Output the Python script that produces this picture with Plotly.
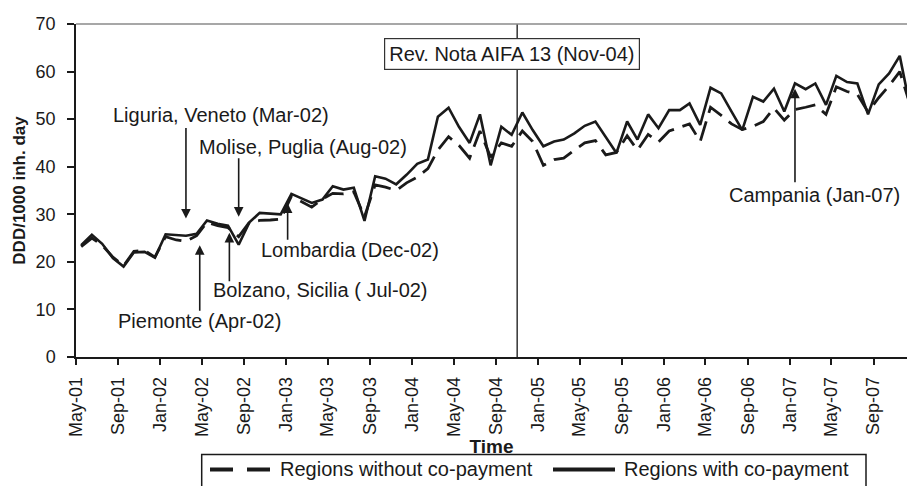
import pandas as pd
import plotly.graph_objects as go

# ---------------- data ----------------
month_start = pd.date_range("2001-05-01", "2007-12-01", freq="MS")
months = month_start + pd.Timedelta(days=15)          # monthly values plotted mid-month

with_copay = [
    23.5, 25.7, 23.8, 20.8, 19.0, 22.0, 22.1, 20.9, 25.8, 25.6,
    25.5, 25.9, 28.7, 28.0, 27.6, 23.6, 28.3, 30.3, 30.1, 30.0,
    34.3, 33.3, 32.4, 33.1, 35.9, 35.2, 35.6, 28.6, 38.0, 37.5,
    36.3, 38.3, 40.6, 41.5, 50.5, 52.4, 48.4, 45.0, 51.0, 40.3,
    48.4, 46.7, 51.4, 47.7, 44.3, 45.3, 45.7, 47.0, 48.6, 49.5,
    46.3, 42.9, 49.5, 45.7, 51.0, 48.1, 51.9, 51.9, 53.3, 48.8,
    56.6, 55.4, 51.6, 47.7, 54.7, 53.7, 56.4, 51.6, 57.5, 56.3,
    57.5, 53.0, 59.1, 57.8, 57.5, 51.0, 57.3, 59.6, 63.3, 52.5,
]
without_copay = [
    23.2, 25.0, 23.5, 21.0, 19.2, 22.2, 22.4, 21.0, 25.3, 24.6,
    24.3, 25.5, 28.3, 27.6, 27.2, 25.3, 28.3, 28.7, 28.8, 29.0,
    33.8, 32.5, 31.5, 33.2, 34.4, 34.3, 34.7, 29.5, 36.2, 35.7,
    35.0, 36.6, 37.8, 39.6, 43.5, 46.3, 44.5, 41.8, 47.5, 42.0,
    45.0, 44.3, 47.5, 45.3, 40.3, 41.5, 41.8, 43.5, 45.0, 45.5,
    42.5, 43.0, 46.5, 43.5, 46.8, 45.2, 47.5, 48.3, 49.0, 45.3,
    52.5, 50.8, 49.0, 47.8, 48.5, 49.5, 52.3, 49.8, 52.0, 52.5,
    53.0, 51.0, 56.8, 55.8, 55.2, 51.5, 54.5, 57.0, 60.0, 53.0,
]

tick_dates = pd.date_range("2001-05-01", "2007-09-01", freq="4MS")
tick_labels = [d.strftime("%b-%y") for d in tick_dates]
y_ticks = [0, 10, 20, 30, 40, 50, 60, 70]

reform_date = "2004-11-01"
reform_label = "Rev. Nota AIFA 13 (Nov-04)"

# (label, arrow tip date, arrow tip value, arrow tail offset px, text centre px x, px y)
events = [
    ("Liguria, Veneto (Mar-02)", "2002-03-16", 29.1, -92, 220.5, 115),
    ("Molise, Puglia (Aug-02)", "2002-08-16", 29.5, -60, 303, 147),
    ("Lombardia (Dec-02)", "2003-01-05", 32.3, 38, 349.5, 250),
    ("Bolzano, Sicilia ( Jul-02)", "2002-07-20", 26.1, 50, 320, 290),
    ("Piemonte (Apr-02)", "2002-04-25", 23.5, 67, 199, 321.7),
    ("Campania (Jan-07)", "2007-01-16", 56.4, 95, 814, 195),
]

# ---------------- layout geometry ----------------
W, H = 907, 486
ML, MR, MT, MB = 76, 0, 23.5, 128.7


def pxx(x):
    return (x - ML) / (W - ML - MR)


def pxy(y):
    return (H - MB - y) / (H - MT - MB)


FONT = "Liberation Sans, Arial, Helvetica, sans-serif"
INK = "#1a1a1a"

fig = go.Figure()
fig.add_trace(go.Scatter(
    x=months, y=without_copay, mode="lines", name="Regions without co-payment",
    line=dict(color=INK, width=2.8, dash="20px,9px"), showlegend=False,
))
fig.add_trace(go.Scatter(
    x=months, y=with_copay, mode="lines", name="Regions with co-payment",
    line=dict(color=INK, width=2.6), showlegend=False,
))

annotations = []
for label, xd, yv, ay, tx, ty in events:
    annotations.append(dict(
        x=xd, y=yv, xref="x", yref="y", text="", showarrow=True,
        ax=0, ay=ay, arrowhead=2, arrowsize=1.2, arrowwidth=1.6, arrowcolor=INK,
    ))
    annotations.append(dict(
        x=pxx(tx), y=pxy(ty), xref="paper", yref="paper", text=label,
        showarrow=False, xanchor="center", yanchor="middle",
        font=dict(family=FONT, size=20, color=INK),
    ))

annotations.append(dict(
    x=pxx(512), y=pxy(53.5), xref="paper", yref="paper", text=reform_label,
    showarrow=False, xanchor="center", yanchor="middle",
    font=dict(family=FONT, size=20, color=INK),
    bordercolor="#333", borderwidth=1.2, borderpad=4, bgcolor="white",
))

# manual legend
leg_y = pxy(470)
annotations.append(dict(
    x=pxx(278), y=leg_y, xref="paper", yref="paper", text="Regions without co-payment",
    showarrow=False, xanchor="left", yanchor="middle",
    font=dict(family=FONT, size=20, color=INK),
))
annotations.append(dict(
    x=pxx(622), y=leg_y, xref="paper", yref="paper", text="Regions with co-payment",
    showarrow=False, xanchor="left", yanchor="middle",
    font=dict(family=FONT, size=20, color=INK),
))

shapes = [
    # reform vertical line
    dict(type="line", xref="x", yref="paper", x0=reform_date, x1=reform_date, y0=0, y1=1,
         line=dict(color="#333", width=1.5), layer="below"),
    # top frame line
    dict(type="line", xref="paper", yref="paper", x0=0, x1=1, y0=1, y1=1,
         line=dict(color="#8a8a8a", width=1.5)),
    # legend box
    dict(type="rect", xref="paper", yref="paper", x0=pxx(201.7), x1=pxx(866),
         y0=pxy(496), y1=pxy(455), line=dict(color=INK, width=1.5)),
    dict(type="line", xref="paper", yref="paper", x0=pxx(210), x1=pxx(270), y0=leg_y, y1=leg_y,
         line=dict(color=INK, width=4, dash="23px,14px")),
    dict(type="line", xref="paper", yref="paper", x0=pxx(553), x1=pxx(615), y0=leg_y, y1=leg_y,
         line=dict(color=INK, width=4)),
]

fig.update_layout(
    width=W, height=H,
    margin=dict(l=ML, r=MR, t=MT, b=MB, pad=0),
    paper_bgcolor="white", plot_bgcolor="white",
    font=dict(family=FONT, color=INK),
    showlegend=False,
    annotations=annotations,
    shapes=shapes,
)
fig.update_xaxes(
    type="date", range=["2001-05-01", "2007-12-07"],
    tickvals=tick_dates, ticktext=tick_labels, tickangle=-90,
    ticks="outside", ticklen=6, tickwidth=1.5, tickcolor=INK,
    ticklabelstandoff=5,
    tickfont=dict(family=FONT, size=18, color=INK),
    showline=True, linecolor=INK, linewidth=1.5, showgrid=False, zeroline=False,
    automargin=False,
    title=dict(text="Time", font=dict(family=FONT, size=19, color=INK, weight="bold"), standoff=4),
)
fig.update_yaxes(
    range=[0, 70], tickvals=y_ticks,
    ticks="outside", ticklen=7, tickwidth=1.5, tickcolor=INK,
    ticklabelstandoff=8,
    tickfont=dict(family=FONT, size=18, color=INK),
    showline=True, linecolor=INK, linewidth=1.5, showgrid=False, zeroline=False,
    automargin=False,
    title=dict(text="DDD/1000 inh. day", font=dict(family=FONT, size=17, color=INK, weight="bold"), standoff=6),
)

fig.write_html("out.html", config={"displayModeBar": False},
               post_script="document.body.style.margin='0';")
